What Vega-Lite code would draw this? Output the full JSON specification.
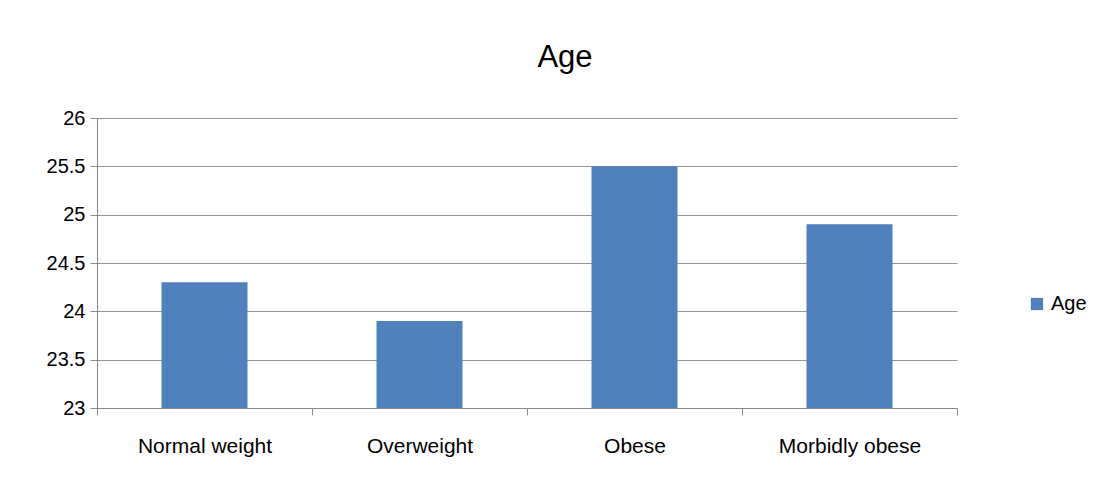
{
  "$schema": "https://vega.github.io/schema/vega-lite/v6.json",
  "width": 860,
  "height": 290,
  "autosize": {"type": "none"},
  "padding": {"left": 97, "top": 118, "right": 154, "bottom": 72},
  "background": "white",
  "title": {"text": "Age", "fontSize": 31, "font": "Liberation Sans", "fontWeight": "normal", "color": "#000000", "anchor": "middle", "dx": 38, "offset": 34},
  "data": {"values": [
    {"category": "Normal weight", "value": 24.3, "series": "Age"},
    {"category": "Overweight", "value": 23.9, "series": "Age"},
    {"category": "Obese", "value": 25.5, "series": "Age"},
    {"category": "Morbidly obese", "value": 24.9, "series": "Age"}
  ]},
  "mark": {"type": "bar", "clip": true, "width": {"band": 0.4}},
  "encoding": {
    "x": {"field": "category", "type": "nominal", "sort": null,
      "scale": {"paddingInner": 0, "paddingOuter": 0},
      "axis": {"title": null, "labelAngle": 0, "labelFontSize": 21, "labelFont": "Liberation Sans", "labelColor": "#000000", "labelPadding": 20, "ticks": true, "tickBand": "extent", "tickSize": 7, "tickColor": "#888888", "domainColor": "#888888", "grid": false}},
    "y": {"field": "value", "type": "quantitative",
      "scale": {"domain": [23, 26], "zero": false, "nice": false},
      "axis": {"title": null, "values": [23, 23.5, 24, 24.5, 25, 25.5, 26], "format": "~g", "labelFontSize": 20, "labelFont": "Liberation Sans", "labelColor": "#000000", "labelPadding": 5, "tickSize": 7, "tickColor": "#888888", "domainColor": "#888888", "gridColor": "#888888", "gridOpacity": 0.9}},
    "color": {"field": "series", "type": "nominal", "scale": {"range": ["#4F81BD"]},
      "legend": {"title": null, "orient": "none", "legendX": 930, "legendY": 176, "symbolType": "square", "symbolSize": 150, "labelFontSize": 20, "labelFont": "Liberation Sans", "labelColor": "#000000", "symbolStrokeWidth": 0}}
  },
  "config": {"view": {"stroke": null}}
}
